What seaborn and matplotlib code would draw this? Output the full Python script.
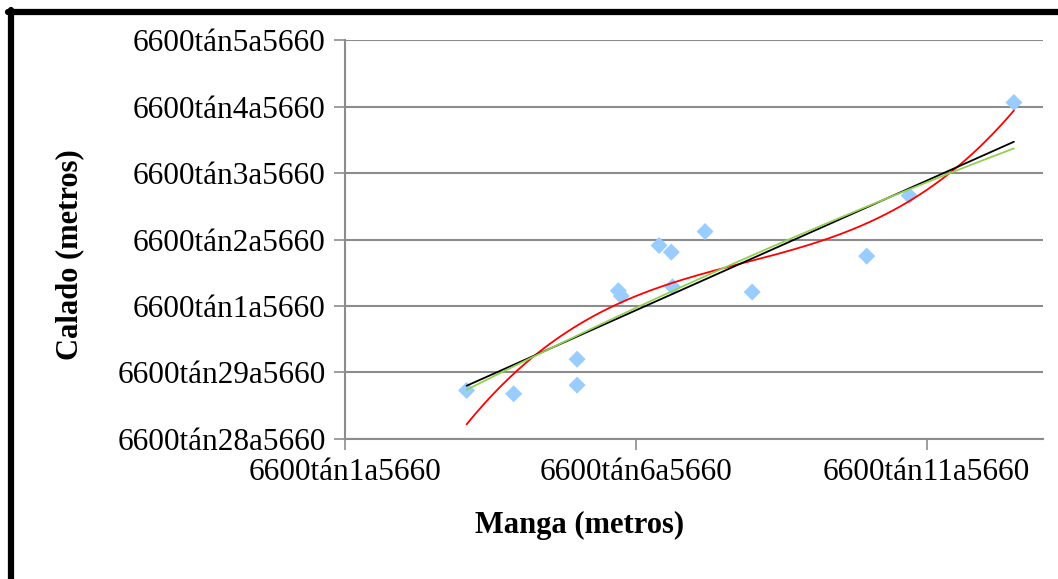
import numpy as np
import pandas as pd
import matplotlib
matplotlib.use("Agg")
import matplotlib.pyplot as plt
import seaborn as sns
from matplotlib.lines import Line2D

# Data
manga = [3.09, 3.90, 4.99, 4.99, 5.70, 5.75, 6.40, 6.61, 6.63, 7.19, 8.00, 9.97, 10.70, 12.50]
calado = [0.73, 0.68, 1.20, 0.81, 2.23, 2.15, 2.91, 2.81, 2.29, 3.12, 2.21, 2.75, 3.66, 5.06]

# trend line coefficients (highest power first)
black_trend = [0.390, -0.405]
green_trend = [-0.00575, 0.4754, -0.674]

x_ticks = [1, 6, 11]
x_labels = ["6600tán1a5660", "6600tán6a5660", "6600tán11a5660"]
y_ticks = [0, 1, 2, 3, 4, 5, 6]
y_labels = ["6600tán28a5660", "6600tán29a5660", "6600tán1a5660", "6600tán2a5660",
            "6600tán3a5660", "6600tán4a5660", "6600tán5a5660"]

df = pd.DataFrame({"Manga": manga, "Calado": calado})

sns.set_style("white")
plt.rcParams["font.family"] = ["Liberation Serif", "DejaVu Serif"]
plt.rcParams["text.color"] = "black"
plt.rcParams["axes.labelcolor"] = "black"
plt.rcParams["xtick.color"] = "black"
plt.rcParams["ytick.color"] = "black"

fig = plt.figure(figsize=(10.58, 5.79), dpi=100)
ax = fig.add_axes([0.3261, 0.2418, 0.6597, 0.6891])

grid_col = "#8c8c8c"

# trend lines
xs = np.linspace(df["Manga"].min(), df["Manga"].max(), 200)
black_line = np.polyval(black_trend, xs)
green_line = np.polyval(green_trend, xs)
red_line = np.polyval(np.polyfit(df["Manga"], df["Calado"], 3), xs)

sns.scatterplot(data=df, x="Manga", y="Calado", marker="D", s=75, color="#99CCFF",
                edgecolor="none", ax=ax, zorder=3)
ax.plot(xs, red_line, color="#FF0000", lw=1.3, zorder=4)
ax.plot(xs, black_line, color="black", lw=1.3, zorder=4)
ax.plot(xs, green_line, color="#92D050", lw=1.3, zorder=4)

ax.set_xlim(1, 13)
ax.set_ylim(0, 6)
ax.set_xticks(x_ticks)
ax.set_xticklabels(x_labels)
ax.set_yticks(y_ticks)
ax.set_yticklabels(y_labels)

ax.yaxis.grid(True, color=grid_col, lw=1.5)
ax.xaxis.grid(False)
for side in ["top", "right"]:
    ax.spines[side].set_visible(False)
for side in ["left", "bottom"]:
    ax.spines[side].set_color(grid_col)
    ax.spines[side].set_linewidth(1.5)

ax.tick_params(axis="both", direction="out", length=8, width=1.2, color=grid_col,
               labelsize=22.5, labelcolor="black", pad=6)
ax.tick_params(axis="y", left=True)
ax.tick_params(axis="x", bottom=True)

ax.set_xlabel("Manga (metros)", fontsize=22, fontweight="bold")
ax.set_ylabel("Calado (metros)", fontsize=22, fontweight="bold")
ax.xaxis.set_label_coords((580 - 345) / 698, -(525 - 439) / 399)
ax.yaxis.set_label_coords(-(345 - 70) / 698, (439 - 255) / 399)
ax.xaxis.label.set_va("center")
ax.yaxis.label.set_va("center")

# frame around the chart area
fig.add_artist(Line2D([8 / 1058, 1], [1 - 12 / 579, 1 - 12 / 579], color="black", lw=4.5))
fig.add_artist(Line2D([11 / 1058, 11 / 1058], [0, 1 - 10 / 579], color="black", lw=4.5))

fig.savefig("out.png", dpi=100)
